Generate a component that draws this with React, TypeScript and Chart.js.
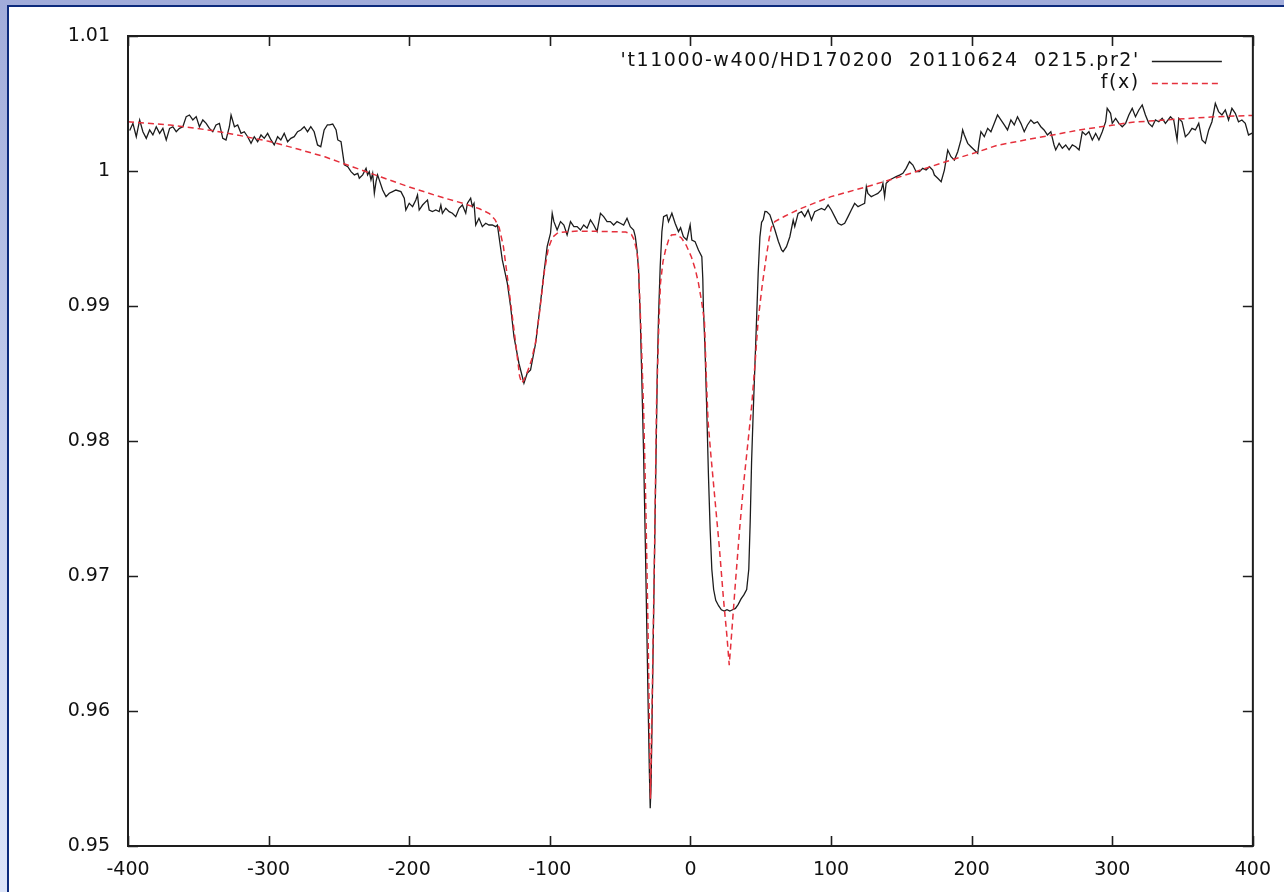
import React, { useEffect, useRef } from "react";
import { Chart, registerables } from "chart.js";

Chart.register(...registerables);

const obsLabel = "'t11000-w400/HD170200  20110624  0215.pr2'";
const fitLabel = "f(x)";

const xTicks = [-400, -300, -200, -100, 0, 100, 200, 300, 400];
const xTickLabels = ["-400", "-300", "-200", "-100", "0", "100", "200", "300", "400"];
const yTicks = [0.95, 0.96, 0.97, 0.98, 0.99, 1.0, 1.01];
const yTickLabels = ["0.95", "0.96", "0.97", "0.98", "0.99", "1", "1.01"];

const obsVelocity = [
  -398.8, -396.5, -394.1, -391.7, -389.4, -387.0, -384.6, -382.3, -379.9, -377.5,
  -375.2, -372.8, -370.4, -368.1, -365.7, -363.4, -361.0, -358.6, -356.3, -353.9,
  -351.5, -349.2, -346.8, -344.4, -342.1, -339.7, -337.4, -335.0, -332.6, -330.3,
  -327.9, -326.7, -324.3, -322.0, -319.6, -317.3, -314.9, -312.5, -310.2, -307.8,
  -305.4, -303.1, -300.7, -298.3, -296.0, -293.6, -291.3, -288.9, -286.5, -284.2,
  -281.8, -279.4, -277.1, -274.7, -272.3, -270.0, -267.6, -265.2, -262.9, -260.5,
  -258.2, -256.7, -254.4, -252.0, -250.8, -248.5, -247.3, -246.1, -243.7, -241.4,
  -239.0, -236.6, -235.5, -233.1, -230.7, -229.6, -228.4, -227.2, -226.0, -224.8,
  -223.6, -222.5, -221.3, -218.9, -216.5, -214.2, -211.8, -209.5, -205.9, -203.5,
  -202.4, -200.0, -197.6, -195.3, -194.1, -192.9, -190.5, -188.2, -187.0, -185.8,
  -183.5, -181.1, -178.7, -177.5, -176.4, -174.0, -171.6, -169.3, -166.9, -164.5,
  -162.2, -159.8, -158.6, -156.3, -155.1, -153.9, -152.7, -150.4, -148.0, -145.6,
  -143.3, -140.9, -138.5, -137.3, -133.8, -130.2, -127.9, -125.5, -122.0, -118.4,
  -116.1, -113.7, -110.1, -107.8, -104.2, -101.9, -99.5, -98.3, -97.1, -94.8,
  -92.4, -90.0, -87.7, -85.3, -82.9, -80.6, -78.2, -75.9, -73.5, -71.1,
  -68.8, -66.4, -64.0, -61.7, -59.3, -57.0, -54.6, -52.2, -49.9, -47.5,
  -45.1, -42.8, -40.4, -39.2, -38.0, -36.9, -35.7, -34.5, -33.3, -32.0,
  -31.0, -30.0, -29.2, -28.6, -28.0, -27.2, -26.2, -25.2, -24.3, -23.5,
  -22.7, -21.5, -20.3, -19.1, -16.8, -15.6, -13.2, -10.9, -8.5, -7.0,
  -5.0, -2.6, -0.2, 1.0, 3.3, 5.7, 8.1, 8.8, 9.2, 10.4,
  11.6, 12.8, 14.0, 15.2, 16.5, 18.0, 20.0, 22.0, 24.0, 26.0,
  28.0, 30.0, 32.0, 34.0, 36.0, 38.0, 40.0, 41.5, 42.5, 43.5,
  44.7, 46.0, 47.1, 48.2, 49.4, 50.6, 51.8, 53.0, 54.2, 56.5,
  60.1, 62.5, 64.8, 65.9, 68.3, 70.7, 73.1, 74.2, 76.6, 79.0,
  81.3, 83.7, 86.1, 88.4, 90.8, 93.2, 95.5, 97.9, 100.2, 102.6,
  105.0, 107.3, 109.7, 112.1, 114.4, 116.8, 119.2, 121.5, 123.9, 125.1,
  126.2, 128.6, 131.0, 133.3, 135.7, 136.9, 138.1, 139.2, 141.6, 144.0,
  146.3, 148.7, 151.1, 153.4, 155.8, 158.2, 160.5, 162.9, 165.2, 167.6,
  170.0, 172.3, 173.5, 175.9, 178.3, 180.6, 183.0, 185.3, 187.7, 190.1,
  192.4, 193.6, 194.8, 197.2, 199.5, 201.9, 204.3, 205.4, 206.6, 209.0,
  211.4, 213.7, 216.1, 218.4, 220.8, 223.2, 225.5, 227.9, 230.3, 232.6,
  235.0, 237.4, 239.7, 242.1, 244.4, 246.8, 249.2, 251.5, 253.9, 256.3,
  258.6, 259.8, 262.2, 264.5, 266.9, 269.3, 271.6, 274.0, 276.4, 278.7,
  281.1, 283.4, 285.8, 288.2, 290.5, 292.9, 295.3, 296.4, 298.8, 300.0,
  302.4, 304.7, 307.1, 309.5, 311.8, 314.2, 316.5, 318.9, 321.3, 323.6,
  326.0, 328.4, 330.7, 333.1, 335.5, 337.8, 341.4, 343.7, 346.1, 347.3,
  349.6, 352.0, 354.4, 356.7, 359.1, 361.5, 363.8, 366.2, 368.6, 370.9,
  373.3, 375.6, 378.0, 380.4, 382.7, 385.1, 387.5, 389.8, 392.2, 394.6,
  396.9, 399.5,
];

const obsFlux = [
  1.0030, 1.00353, 1.00254, 1.00378, 1.00291, 1.00242, 1.00304, 1.00267, 1.00328, 1.00279,
  1.00316, 1.0023, 1.00316, 1.00328, 1.00291, 1.00316, 1.00328, 1.00403, 1.00415, 1.00378,
  1.00403, 1.00328, 1.00378, 1.00353, 1.00316, 1.00291, 1.00341, 1.00353, 1.00242, 1.0023,
  1.00328, 1.00415, 1.00328, 1.00341, 1.00279, 1.00291, 1.00254, 1.00205, 1.00254, 1.00217,
  1.00267, 1.00242, 1.00279, 1.0023, 1.00193, 1.00254, 1.0023, 1.00279, 1.00217, 1.00242,
  1.00254, 1.00291, 1.00304, 1.00328, 1.00291, 1.00328, 1.00291, 1.00193, 1.0018, 1.00304,
  1.00341, 1.00341, 1.00348, 1.00304, 1.0023, 1.00217, 1.00131, 1.00045, 1.00032, 0.99995,
  0.99971, 0.99983, 0.99946, 0.99971, 1.0002, 0.99971, 0.99995, 0.99934, 0.99983, 0.99835,
  0.99921, 0.99971, 0.99934, 0.99859, 0.9981, 0.99835, 0.99847, 0.99859, 0.99847, 0.99798,
  0.99711, 0.99761, 0.99736, 0.99785, 0.99822, 0.99711, 0.99748, 0.99773, 0.99785, 0.99711,
  0.99699, 0.99711, 0.99699, 0.99748, 0.99687, 0.99724, 0.99699, 0.99687, 0.99662, 0.99724,
  0.99748, 0.99687, 0.99761, 0.99798, 0.99736, 0.99761, 0.996, 0.9965, 0.99588, 0.99613,
  0.996, 0.996, 0.99588, 0.996, 0.99341, 0.99168, 0.98996, 0.98773, 0.98576, 0.98428,
  0.98502, 0.98526, 0.98724, 0.98921, 0.99242, 0.9944, 0.99539, 0.99687, 0.99625, 0.99563,
  0.99625, 0.996, 0.99526, 0.99625, 0.99588, 0.99588, 0.99563, 0.996, 0.99576, 0.99637,
  0.996, 0.99551, 0.99687, 0.99662, 0.99625, 0.99625, 0.996, 0.99625, 0.99613, 0.996,
  0.9965, 0.99588, 0.99563, 0.99514, 0.99415, 0.99267, 0.98921, 0.98428, 0.979, 0.972,
  0.966, 0.96, 0.9555, 0.9528, 0.9545, 0.96, 0.967, 0.974, 0.98, 0.9855,
  0.9892, 0.99292, 0.9955, 0.99662, 0.99675, 0.99625, 0.99687, 0.99613, 0.99551, 0.9958,
  0.99514, 0.99489, 0.996, 0.99489, 0.99477, 0.99415, 0.99366, 0.992, 0.98996, 0.98675,
  0.9823, 0.9775, 0.9735, 0.9705, 0.969, 0.9682, 0.9678, 0.9675, 0.9674, 0.9675,
  0.9674, 0.9675, 0.9676, 0.9679, 0.9683, 0.9686, 0.969, 0.9705, 0.974, 0.9785,
  0.9823, 0.986, 0.9892, 0.9925, 0.9951, 0.9962, 0.9964, 0.997, 0.99699, 0.99675,
  0.99563, 0.9948, 0.99415, 0.99402, 0.99439, 0.99513, 0.99637, 0.99588, 0.99686, 0.99699,
  0.99662, 0.99711, 0.99637, 0.99699, 0.99711, 0.99723, 0.99711, 0.99748, 0.99711, 0.99662,
  0.99612, 0.996, 0.99612, 0.99662, 0.99711, 0.9976, 0.99736, 0.99748, 0.9976, 0.99884,
  0.99834, 0.9981, 0.99822, 0.99834, 0.99859, 0.99909, 0.9981, 0.99909, 0.99933, 0.99946,
  0.99958, 0.9997, 0.99983, 1.0002, 1.00069, 1.00044, 0.99995, 0.99995, 1.0002, 1.00007,
  1.00032, 1.00007, 0.9997, 0.99946, 0.99921, 1.00007, 1.00155, 1.00106, 1.00081, 1.00143,
  1.0023, 1.00304, 1.00267, 1.00205, 1.0018, 1.00155, 1.00131, 1.00217, 1.00291, 1.00254,
  1.00316, 1.00291, 1.00353, 1.00415, 1.00378, 1.00341, 1.00304, 1.00378, 1.00341, 1.00402,
  1.00353, 1.00291, 1.00341, 1.00378, 1.00353, 1.00365, 1.00328, 1.00304, 1.00267, 1.00291,
  1.00193, 1.00156, 1.00205, 1.00168, 1.00193, 1.00156, 1.00193, 1.0018, 1.00156, 1.00291,
  1.00267, 1.00291, 1.0023, 1.00279, 1.0023, 1.00291, 1.00365, 1.00464, 1.00427, 1.00353,
  1.0039, 1.00353, 1.00328, 1.00353, 1.00415, 1.00464, 1.00402, 1.00452, 1.00489, 1.00415,
  1.00353, 1.00328, 1.00378, 1.00365, 1.0039, 1.00353, 1.00402, 1.00378, 1.0023, 1.0039,
  1.00365, 1.00254, 1.00279, 1.00316, 1.00304, 1.00353, 1.0023, 1.00205, 1.00304, 1.00365,
  1.00501, 1.0044, 1.00415, 1.00452, 1.00378, 1.00464, 1.00427, 1.00365, 1.00378, 1.00353,
  1.00267, 1.0028,
];

const fitVelocity = [
  -400, -370, -340, -320, -300, -280, -260, -240, -220, -200,
  -180, -160, -150, -143, -139, -136, -133, -130, -127, -124,
  -121.5, -120, -118.5, -116, -113, -110, -107, -104, -101, -98,
  -94, -80, -60, -46, -42, -40, -38, -36.9, -35, -33.3,
  -32, -31, -30, -29.2, -28.4, -27.6, -26.6, -25.5, -24.1, -22.5,
  -21.3, -19.5, -17.7, -15.5, -13.5, -10, -6.4, -3, 0.7, 3.5,
  5.7, 8, 10, 11.2, 12.5, 14.5, 17.5, 20.5, 23.5, 26,
  27.6, 29.5, 32, 35, 38, 41, 43.3, 46, 48.2, 51,
  54, 56, 57.5, 60, 67, 77, 90, 100, 112, 126,
  150, 181, 204, 218, 233, 254, 280, 301, 313, 340,
  370, 400,
];

const fitFlux = [
  1.00365, 1.0034, 1.003, 1.00262, 1.0022, 1.00165, 1.00105, 1.0003, 0.99955, 0.99882,
  0.99815, 0.99755, 0.9972, 0.99685, 0.9964, 0.9958, 0.9944, 0.992, 0.9895, 0.987,
  0.9848, 0.9843, 0.9845, 0.9851, 0.986, 0.9874, 0.9898, 0.9925, 0.9943, 0.9951,
  0.99545, 0.99555, 0.99552, 0.99548, 0.9953, 0.9949, 0.994, 0.99289, 0.9877, 0.9823,
  0.9765, 0.971, 0.965, 0.959, 0.9535, 0.958, 0.965, 0.972, 0.98281, 0.9885,
  0.9917, 0.9933, 0.99415, 0.9949, 0.99526, 0.9953, 0.99504, 0.9945, 0.99363, 0.9927,
  0.9917, 0.9903, 0.9888, 0.985, 0.9815, 0.979, 0.9756, 0.9722, 0.9683, 0.9655,
  0.9634, 0.966, 0.9695, 0.9735, 0.977, 0.98, 0.9823, 0.9858, 0.989, 0.9915,
  0.9937, 0.995, 0.9958, 0.99625, 0.99665, 0.99715, 0.9977, 0.9981, 0.99845, 0.99885,
  0.9996, 1.00067, 1.0014, 1.0019, 1.0022, 1.0026, 1.0031, 1.0034, 1.0036, 1.0038,
  1.004, 1.00412,
];

const FONT = '"DejaVu Sans", "Liberation Sans", sans-serif';

const framePlugin = {
  id: "gnuplotFrame",
  afterDatasetsDraw(chart: any) {
    const { ctx, chartArea, scales } = chart;
    const { left, top, right, bottom } = chartArea;
    const tick = 10;
    ctx.save();
    ctx.strokeStyle = "#1e1e1e";
    ctx.lineWidth = 2;
    ctx.strokeRect(left, top, right - left, bottom - top);
    ctx.lineWidth = 1.6;
    ctx.beginPath();
    xTicks.forEach((v) => {
      const px = Math.round(scales.x.getPixelForValue(v)) + 0.5;
      ctx.moveTo(px, bottom);
      ctx.lineTo(px, bottom - tick);
      ctx.moveTo(px, top);
      ctx.lineTo(px, top + tick);
    });
    yTicks.forEach((v) => {
      const py = Math.round(scales.y.getPixelForValue(v)) + 0.5;
      ctx.moveTo(left, py);
      ctx.lineTo(left + tick, py);
      ctx.moveTo(right, py);
      ctx.lineTo(right - tick, py);
    });
    ctx.stroke();
    ctx.restore();
  },
  afterDraw(chart: any) {
    const { ctx, chartArea } = chart;
    const { top, right } = chartArea;
    ctx.save();
    ctx.font = `19px ${FONT}`;
    ctx.textAlign = "right";
    ctx.textBaseline = "middle";
    try {
      (ctx as any).letterSpacing = "1.6px";
    } catch (e) {}
    chart.data.datasets.forEach((ds: any, i: number) => {
      const y = top + 25 + i * 22;
      ctx.fillStyle = "#111";
      ctx.fillText(ds.label, right - 113, y);
      ctx.strokeStyle = ds.borderColor;
      ctx.lineWidth = ds.borderWidth;
      ctx.setLineDash(ds.borderDash || []);
      ctx.beginPath();
      ctx.moveTo(right - 101, y + 0.5);
      ctx.lineTo(right - 31, y + 0.5);
      ctx.stroke();
    });
    ctx.restore();
  },
};

export default function App() {
  const canvasRef = useRef<HTMLCanvasElement>(null);

  useEffect(() => {
    const canvas = canvasRef.current;
    if (!canvas) return;
    const chart = new Chart(canvas, {
      type: "line",
      data: {
        datasets: [
          {
            label: obsLabel,
            data: obsVelocity.map((v, i) => ({ x: v, y: obsFlux[i] })),
            borderColor: "#1c1c1c",
            borderWidth: 1.3,
            pointRadius: 0,
            tension: 0,
            fill: false,
            order: 1,
          },
          {
            label: fitLabel,
            data: fitVelocity.map((v, i) => ({ x: v, y: fitFlux[i] })),
            borderColor: "#e5303c",
            borderWidth: 1.5,
            borderDash: [6, 4],
            pointRadius: 0,
            tension: 0,
            fill: false,
            order: 0,
          },
        ],
      },
      options: {
        responsive: false,
        devicePixelRatio: 1,
        animation: false,
        layout: { padding: { left: 28, top: 36, right: 28, bottom: 6 } },
        plugins: {
          legend: { display: false },
          tooltip: { enabled: false },
        },
        scales: {
          x: {
            type: "linear",
            min: -400,
            max: 400,
            grid: { display: false, drawTicks: false },
            border: { display: false },
            afterBuildTicks: (scale: any) => {
              scale.ticks = xTicks.map((value) => ({ value }));
            },
            afterFit: (scale: any) => {
              scale.height = 40;
            },
            ticks: {
              autoSkip: false,
              maxRotation: 0,
              padding: 13,
              color: "#111",
              font: { family: FONT, size: 19 },
              callback: (_v: any, i: number) => xTickLabels[i],
            },
          },
          y: {
            type: "linear",
            min: 0.95,
            max: 1.01,
            grid: { display: false, drawTicks: false },
            border: { display: false },
            afterBuildTicks: (scale: any) => {
              scale.ticks = yTicks.map((value) => ({ value }));
            },
            afterFit: (scale: any) => {
              scale.width = 100;
            },
            ticks: {
              autoSkip: false,
              padding: 18,
              color: "#111",
              font: { family: FONT, size: 19 },
              callback: (_v: any, i: number) => yTickLabels[i],
            },
          },
        },
      },
      plugins: [framePlugin],
    } as any);
    return () => chart.destroy();
  }, []);

  return (
    <div
      style={{
        position: "fixed",
        left: 0,
        top: 0,
        width: 1284,
        height: 892,
        overflow: "hidden",
        background: "linear-gradient(180deg, #a1acda 0%, #c3cdee 50%, #dce4f9 100%)",
      }}
    >
      <div
        style={{
          position: "absolute",
          left: 7,
          top: 5,
          right: 0,
          bottom: 0,
          background: "#ffffff",
          borderLeft: "2px solid #0c2a7c",
          borderTop: "2px solid #0c2a7c",
        }}
      />
      <canvas
        ref={canvasRef}
        width={1284}
        height={892}
        style={{ position: "absolute", left: 0, top: 0, width: 1284, height: 892 }}
      />
    </div>
  );
}
